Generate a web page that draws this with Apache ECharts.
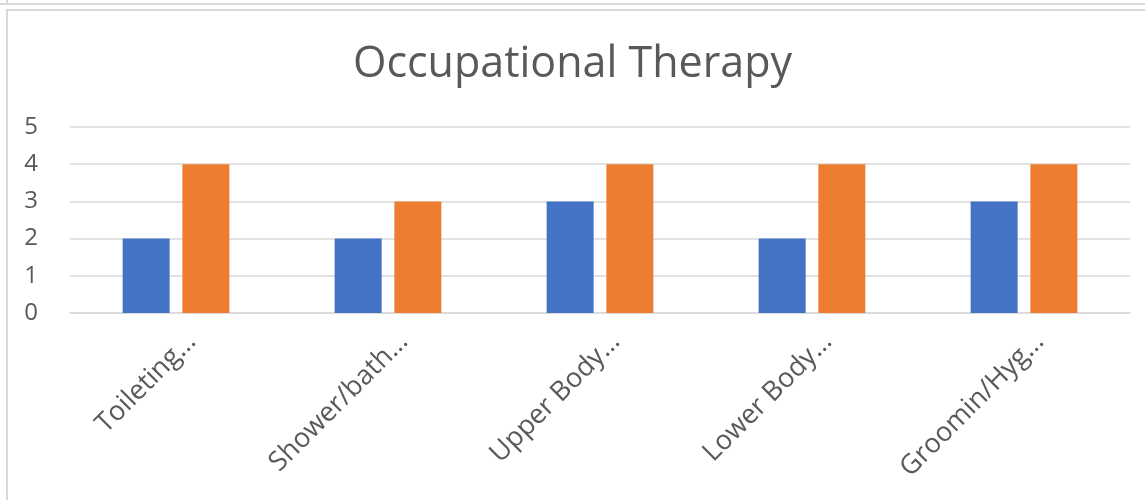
<!DOCTYPE html>
<html>
<head>
<meta charset="utf-8">
<script src="https://cdn.jsdelivr.net/npm/echarts@6/dist/echarts.min.js"></script>
<style>
  html, body { margin: 0; padding: 0; background: #fff; }
  .top-line { position: absolute; left: 0; top: 3px; width: 1145px; height: 2px; background: #d9d9d9; }
  .top-stub { position: absolute; left: 6px; top: 0; width: 2px; height: 4px; background: #d9d9d9; }
  .frame { position: absolute; left: 6px; top: 9px; width: 1145px; height: 500px;
           border-left: 2px solid #d9d9d9; border-top: 2px solid #d9d9d9; }
  #chart { position: absolute; left: 0; top: 0; width: 1145px; height: 500px; }
</style>
</head>
<body>
<div class="top-line"></div>
<div class="top-stub"></div>
<div class="frame"></div>
<div id="chart"></div>
<script>
// 数据
const categories = ['Toileting…', 'Shower/bath…', 'Upper Body…', 'Lower Body…', 'Groomin/Hyg…']
const seriesA = [2, 2, 3, 2, 3]
const seriesB = [4, 3, 4, 4, 4]
const yTicks = [0, 1, 2, 3, 4, 5]

const chart = echarts.init(document.getElementById('chart'), null, { renderer: 'canvas' })
const font = 'Open Sans'
const option = {
  backgroundColor: 'transparent',
  animation: false,
  title: {
    text: 'Occupational Therapy',
    left: 'center',
    top: 38,
    textStyle: { color: '#595959', fontSize: 43, fontWeight: 'normal', fontFamily: font }
  },
  // 第二个grid只用来放斜着的类目标签（往右挪一点，像Excel那样）
  grid: [
    { left: 70, right: 15, top: 127, bottom: 187 },
    { left: 76, right: 9, top: 127, bottom: 187 }
  ],
  xAxis: [
    {
      type: 'category',
      data: categories,
      axisLine: { show: true, lineStyle: { color: '#d9d9d9', width: 1.5 } },
      axisTick: { show: false },
      axisLabel: { show: false }
    },
    {
      type: 'category',
      gridIndex: 1,
      data: categories,
      axisLine: { show: false },
      axisTick: { show: false },
      axisLabel: {
        rotate: 45, margin: 15, verticalAlign: 'top',
        color: '#595959', fontSize: 27, fontFamily: font, interval: 0
      }
    }
  ],
  yAxis: [
    {
      type: 'value',
      min: yTicks[0],
      max: yTicks[yTicks.length - 1],
      interval: 1,
      axisLine: { show: false },
      axisTick: { show: false },
      axisLabel: { margin: 32, color: '#595959', fontSize: 24, fontFamily: font },
      splitLine: { lineStyle: { color: '#d9d9d9', width: 1.5 } }
    },
    { type: 'value', gridIndex: 1, show: false, splitLine: { show: false } }
  ],
  series: [
    { type: 'bar', data: seriesA, barWidth: 47, barGap: '27%', itemStyle: { color: '#4472C4' } },
    { type: 'bar', data: seriesB, barWidth: 47, barGap: '27%', itemStyle: { color: '#ED7D31' } }
  ]
}
chart.setOption(option)
</script>
</body>
</html>
